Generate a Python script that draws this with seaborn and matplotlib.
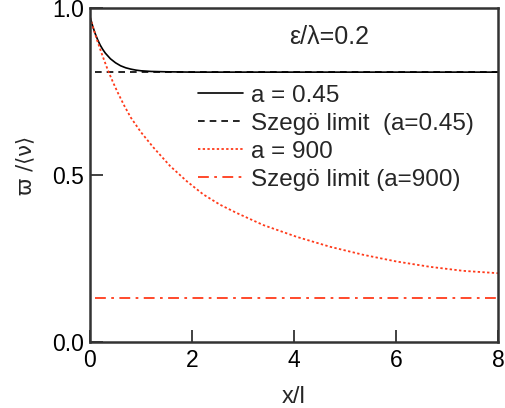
import matplotlib
matplotlib.use("Agg")
import matplotlib.pyplot as plt
import seaborn as sns
import pandas as pd

# a = 0.45 curve
x_a045 = [0.0, 0.05, 0.1, 0.15, 0.2, 0.25, 0.3, 0.4, 0.5, 0.6, 0.7, 0.8, 0.9, 1.0, 1.2, 1.5, 2.0, 3.0, 5.0, 8.0]
y_a045 = [0.974, 0.947, 0.924, 0.905, 0.889, 0.876, 0.865, 0.848, 0.836, 0.827, 0.821, 0.817, 0.814, 0.812, 0.810, 0.809, 0.808, 0.808, 0.808, 0.808]
# a = 900 curve
x_a900 = [0.0, 0.08, 0.16, 0.25, 0.35, 0.45, 0.55, 0.67, 0.8, 1.0, 1.24, 1.57, 1.9, 2.22, 2.55, 2.88, 3.4, 4.05, 4.71, 5.36, 6.01, 6.67, 7.32, 8.0]
y_a900 = [0.972, 0.932, 0.894, 0.855, 0.814, 0.778, 0.745, 0.708, 0.672, 0.628, 0.583, 0.527, 0.481, 0.442, 0.411, 0.386, 0.350, 0.315, 0.285, 0.261, 0.241, 0.225, 0.213, 0.206]
# Szegö limits
x_limit = [0.1, 8.0]
y_limit_045 = [0.809, 0.809]
y_limit_900 = [0.133, 0.133]

labels = ["a = 0.45", "Szegö limit  (a=0.45)", "a = 900", "Szegö limit (a=900)"]
annotation = "ε/λ=0.2"
x_ticks = [0, 2, 4, 6, 8]
y_ticks = [0.0, 0.5, 1.0]

sns.set_style("ticks")
plt.rcParams['font.family'] = ['Liberation Sans', 'DejaVu Sans']

fig = plt.figure(figsize=(5.06, 4.08), dpi=100)
ax = fig.add_axes([90/506, 1-342/408, 408/506, 334/408])

red = "#ff3a1a"
sns.lineplot(x=x_a045, y=y_a045, ax=ax, color="black", lw=1.2, label=labels[0])
sns.lineplot(x=x_limit, y=y_limit_045, ax=ax, color="black", lw=1.2, linestyle=(0, (4, 3)), label=labels[1])
sns.lineplot(x=x_a900, y=y_a900, ax=ax, color=red, lw=1.3, linestyle=(0, (1.3, 1.3)), label=labels[2])
sns.lineplot(x=x_limit, y=y_limit_900, ax=ax, color=red, lw=1.3, linestyle=(0, (6, 3, 1.5, 3)), label=labels[3])

ax.set_xlim(0, 8)
ax.set_ylim(0, 1.0)
ax.set_xticks(x_ticks)
ax.set_xticklabels([str(t) for t in x_ticks])
ax.set_yticks(y_ticks)
ax.set_yticklabels(["0.0", "0.5", "1.0"])
ax.tick_params(direction="in", length=9, width=1.3, labelsize=16.5, colors="#333333", labelcolor="black")
ax.tick_params(axis="x", pad=5)
ax.tick_params(axis="y", pad=4.5)
for s in ax.spines.values():
    s.set_linewidth(1.8)
    s.set_color("#333333")

ax.set_xlabel("x/l", fontsize=17, labelpad=10)
ax.set_ylabel("ϖ /⟨ν⟩", fontsize=15, family=['DejaVu Sans'])
ax.yaxis.set_label_coords(-0.135, 0.53)

ax.text(0.587, 0.913, annotation, transform=ax.transAxes, ha="center", va="center", fontsize=18)

leg = ax.legend(loc="upper left", bbox_to_anchor=(0.24, 0.80), frameon=False, fontsize=17.5,
                handlelength=1.85, handletextpad=0.35, labelspacing=0.25, borderaxespad=0)

fig.savefig("out.png", dpi=100)
